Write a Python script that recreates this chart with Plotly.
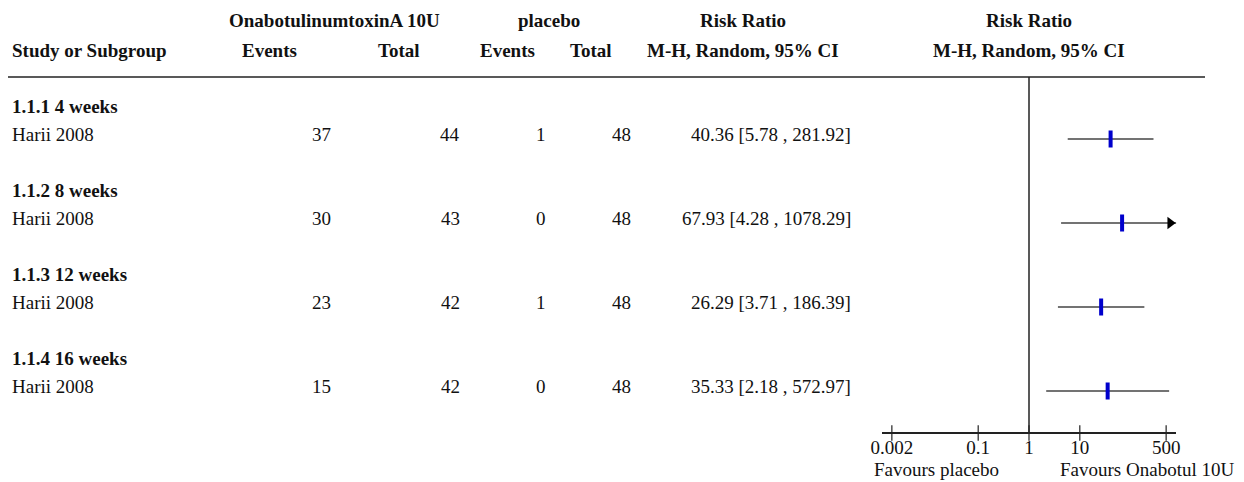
import math
import plotly.graph_objects as go

# ---------------- data ----------------
subgroups = ["1.1.1 4 weeks", "1.1.2 8 weeks", "1.1.3 12 weeks", "1.1.4 16 weeks"]
studies = ["Harii 2008", "Harii 2008", "Harii 2008", "Harii 2008"]
treat_events = [37, 30, 23, 15]
treat_total = [44, 43, 42, 42]
ctrl_events = [1, 0, 1, 0]
ctrl_total = [48, 48, 48, 48]
rr = [40.36, 67.93, 26.29, 35.33]
ci_low = [5.78, 4.28, 3.71, 2.18]
ci_high = [281.92, 1078.29, 186.39, 572.97]
tick_vals = [0.002, 0.1, 1, 10, 500]
tick_text = ["0.002", "0.1", "1", "10", "500"]
null_value = 1
treat_name = "OnabotulinumtoxinA 10U"
ctrl_name = "placebo"
fav_left = "Favours placebo"
fav_right = "Favours Onabotul 10U"

# ---------------- layout constants ----------------
W, H = 1244, 482
FONT = "Liberation Serif"
FS = 19
TXT = "#111111"
hdr1_y, hdr2_y = 20, 50
first_row_y = 106
row_h = 28
ci_offset = 5
axis_y = 433
tick_label_y = 449
fav_y = 469
header_line_y = 77

log_min = math.log10(min(tick_vals)) - 0.2
log_max = math.log10(max(tick_vals)) + 0.2
px_left, px_right = 881.7, 1176.3

fig = go.Figure()

def px(x):
    return x / W

annotations = []

def text(x, y, s, anchor="left", bold=False, yref="y"):
    annotations.append(dict(
        x=px(x), y=y, xref="paper", yref=yref, text=("<b>%s</b>" % s) if bold else s,
        showarrow=False, xanchor=anchor, yanchor="middle",
        font=dict(family=FONT, size=FS, color=TXT)))

# headers
text(334, hdr1_y, treat_name, "center", True)
text(549, hdr1_y, ctrl_name, "center", True)
text(743, hdr1_y, "Risk Ratio", "center", True)
text(1029, hdr1_y, "Risk Ratio", "center", True)
text(10, hdr2_y, "Study or Subgroup", "left", True)
text(269, hdr2_y, "Events", "center", True)
text(399, hdr2_y, "Total", "center", True)
text(507, hdr2_y, "Events", "center", True)
text(591, hdr2_y, "Total", "center", True)
text(743, hdr2_y, "M-H, Random, 95% CI", "center", True)
text(1029, hdr2_y, "M-H, Random, 95% CI", "center", True)

xmax_val = 10 ** log_max
for i in range(len(subgroups)):
    yh = first_row_y + row_h * 3 * i
    ys = yh + row_h
    text(10, yh, subgroups[i], "left", True)
    text(10, ys, studies[i], "left")
    text(333, ys, str(treat_events[i]), "right")
    text(462, ys, str(treat_total[i]), "right")
    text(548, ys, str(ctrl_events[i]), "right")
    text(633, ys, str(ctrl_total[i]), "right")
    text(853, ys, "%.2f [%.2f , %.2f]" % (rr[i], ci_low[i], ci_high[i]), "right")

    yl = ys + ci_offset
    hi = min(ci_high[i], xmax_val)
    fig.add_trace(go.Scatter(x=[ci_low[i], hi], y=[yl, yl], mode="lines",
                             line=dict(color="#444444", width=1.5),
                             hoverinfo="skip", showlegend=False))
    if ci_high[i] > xmax_val:
        fig.add_trace(go.Scatter(x=[xmax_val / 10 ** 0.12], y=[yl], mode="markers",
                                 marker=dict(symbol="triangle-right", size=11, color="black"),
                                 cliponaxis=False, hoverinfo="skip", showlegend=False))
    fig.add_trace(go.Scatter(x=[rr[i]], y=[yl], mode="markers",
                             marker=dict(symbol="line-ns", size=12,
                                         line=dict(width=4, color="#0000CC")),
                             hoverinfo="skip", showlegend=False))

# axis tick marks and labels
fig.add_trace(go.Scatter(x=tick_vals, y=[axis_y] * len(tick_vals), mode="markers",
                         marker=dict(symbol="line-ns", size=11,
                                     line=dict(width=1.2, color="#222222")),
                         cliponaxis=False, hoverinfo="skip", showlegend=False))
fig.add_trace(go.Scatter(x=tick_vals, y=[tick_label_y] * len(tick_vals), mode="text",
                         text=tick_text, textposition="middle center",
                         textfont=dict(family=FONT, size=FS, color=TXT),
                         cliponaxis=False, hoverinfo="skip", showlegend=False))

text(936, fav_y, fav_left, "center")
text(1147, fav_y, fav_right, "center")

shapes = [
    dict(type="line", xref="paper", yref="y", x0=px(8), x1=px(1205),
         y0=header_line_y, y1=header_line_y, line=dict(color="#222222", width=1.5)),
    dict(type="line", xref="x", yref="y", x0=null_value, x1=null_value,
         y0=header_line_y, y1=axis_y, line=dict(color="#222222", width=1.5)),
]

fig.update_layout(
    width=W, height=H, margin=dict(l=0, r=0, t=0, b=0),
    paper_bgcolor="white", plot_bgcolor="white",
    annotations=annotations, shapes=shapes, showlegend=False,
    xaxis=dict(type="log", range=[log_min, log_max],
               domain=[px(px_left), px(px_right)],
               anchor="free", position=1 - axis_y / H,
               showline=True, linecolor="#222222", linewidth=1.5,
               showgrid=False, zeroline=False, ticks="", showticklabels=False),
    yaxis=dict(range=[H, 0], domain=[0, 1], visible=False, showgrid=False),
)

fig.write_html("out.html", config={"displayModeBar": False},
               post_script="document.body.style.margin='0';document.body.style.overflow='hidden';")
